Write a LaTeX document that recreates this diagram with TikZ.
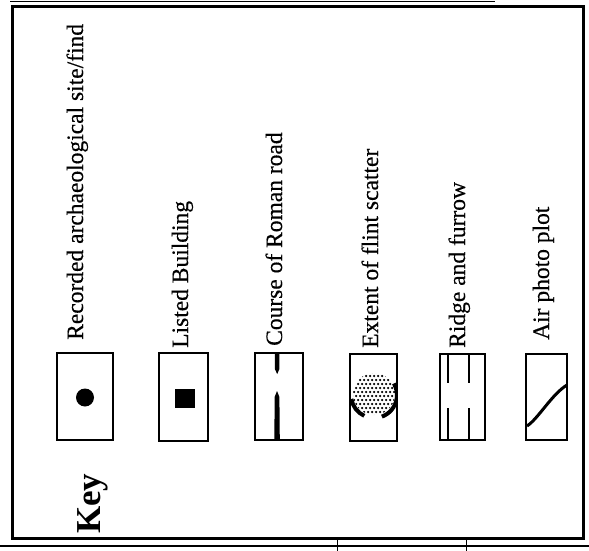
\documentclass[tikz,border=0pt]{standalone}
\usepackage{fontspec}
\setmainfont{Liberation Serif}
\newfontfamily\scanfont[FakeBold=0.35]{Liberation Serif}
\begin{document}
\begin{tikzpicture}[x=1pt,y=-1pt,
  frame/.style={draw=black, line width=3pt},
  keybox/.style={draw=black, line width=2pt},
  lbl/.style={rotate=90, anchor=base west, inner sep=0pt, font=\scanfont\fontsize{23.5}{28}\selectfont},
  keylbl/.style={rotate=90, anchor=base west, inner sep=0pt, font=\fontsize{35}{40}\selectfont\bfseries},
  scan/.style={draw=black, line width=1.5pt},
  road/.style={fill=black},
  ridge/.style={draw=black, line width=2.5pt},
  thickarc/.style={draw=black, line width=4pt},
]
\useasboundingbox (0,0) rectangle (589,551);
\fill[white] (0,0) rectangle (589,551);
% outer frame and scan lines
\draw[frame] (12,7) rectangle (583,538);
\draw[scan] (0,546) -- (589,546);
\draw[scan, line width=1pt] (337,540) -- (337,551);
\draw[scan, line width=1pt] (466,540) -- (466,551);
\draw[scan, line width=1pt] (10,2) -- (495,2);

% title
\node[keylbl] (key) at (100,534) {Key};

% labels
\node[lbl] (l1) at (83,340) {Recorded archaeological site/find};
\node[lbl] (l2) at (188,348) {Listed Building};
\node[lbl] (l3) at (282,346) {Course of Roman road};
\node[lbl] (l4) at (378,348) {Extent of flint scatter};
\node[lbl] (l5) at (465,348) {Ridge and furrow};
\node[lbl] (l6) at (549,340) {Air photo plot};

% symbol boxes
\draw[keybox] (57,353) rectangle (113,440);
\draw[keybox] (159,353) rectangle (208,441);
\draw[keybox] (255,353) rectangle (303,440);
\draw[keybox] (350,354) rectangle (397,441);
\draw[keybox] (440,354) rectangle (485,440);
\draw[keybox] (526,354) rectangle (567,440);

% 1: dot
\fill (85,397.5) circle (9);
% 2: square
\fill (175,389) rectangle (195,408);
% 3: Roman road
\fill[road] (274.8,353) -- (279.4,353) -- (279.4,369) -- (277.2,374) -- (274.8,369) -- cycle;
\fill[road] (277,391) -- (279.4,397) -- (279.8,440) -- (274.4,440) -- (274.6,397) -- cycle;
% 4: flint scatter
\begin{scope}
  \clip (351,355) rectangle (396,440);
  \clip (374,394) circle (21);
  \foreach \i in {0,...,11} {
    \foreach \j in {0,...,11} {
      \fill ({352+\i*4+mod(\j,2)*2},{372+\j*4}) circle (1.25);
    }
  }
\end{scope}
\begin{scope}
  \clip (351,355) rectangle (397,440);
  \draw[thickarc] (374,395) ++(170:23) arc (170:115:23);
  \draw[thickarc] (374,395) ++(70:23) arc (70:-30:23);
\end{scope}
% 5: ridge and furrow
\draw[ridge] (448,354) -- (448,383);
\draw[ridge] (448,408) -- (448,440);
\draw[ridge] (469,354) -- (469,383);
\draw[ridge] (469,408) -- (469,440);
% 6: air photo plot
\draw[line width=3pt] (527,426) .. controls (538,419) and (552,394) .. (567,385);
\end{tikzpicture}
\end{document}
